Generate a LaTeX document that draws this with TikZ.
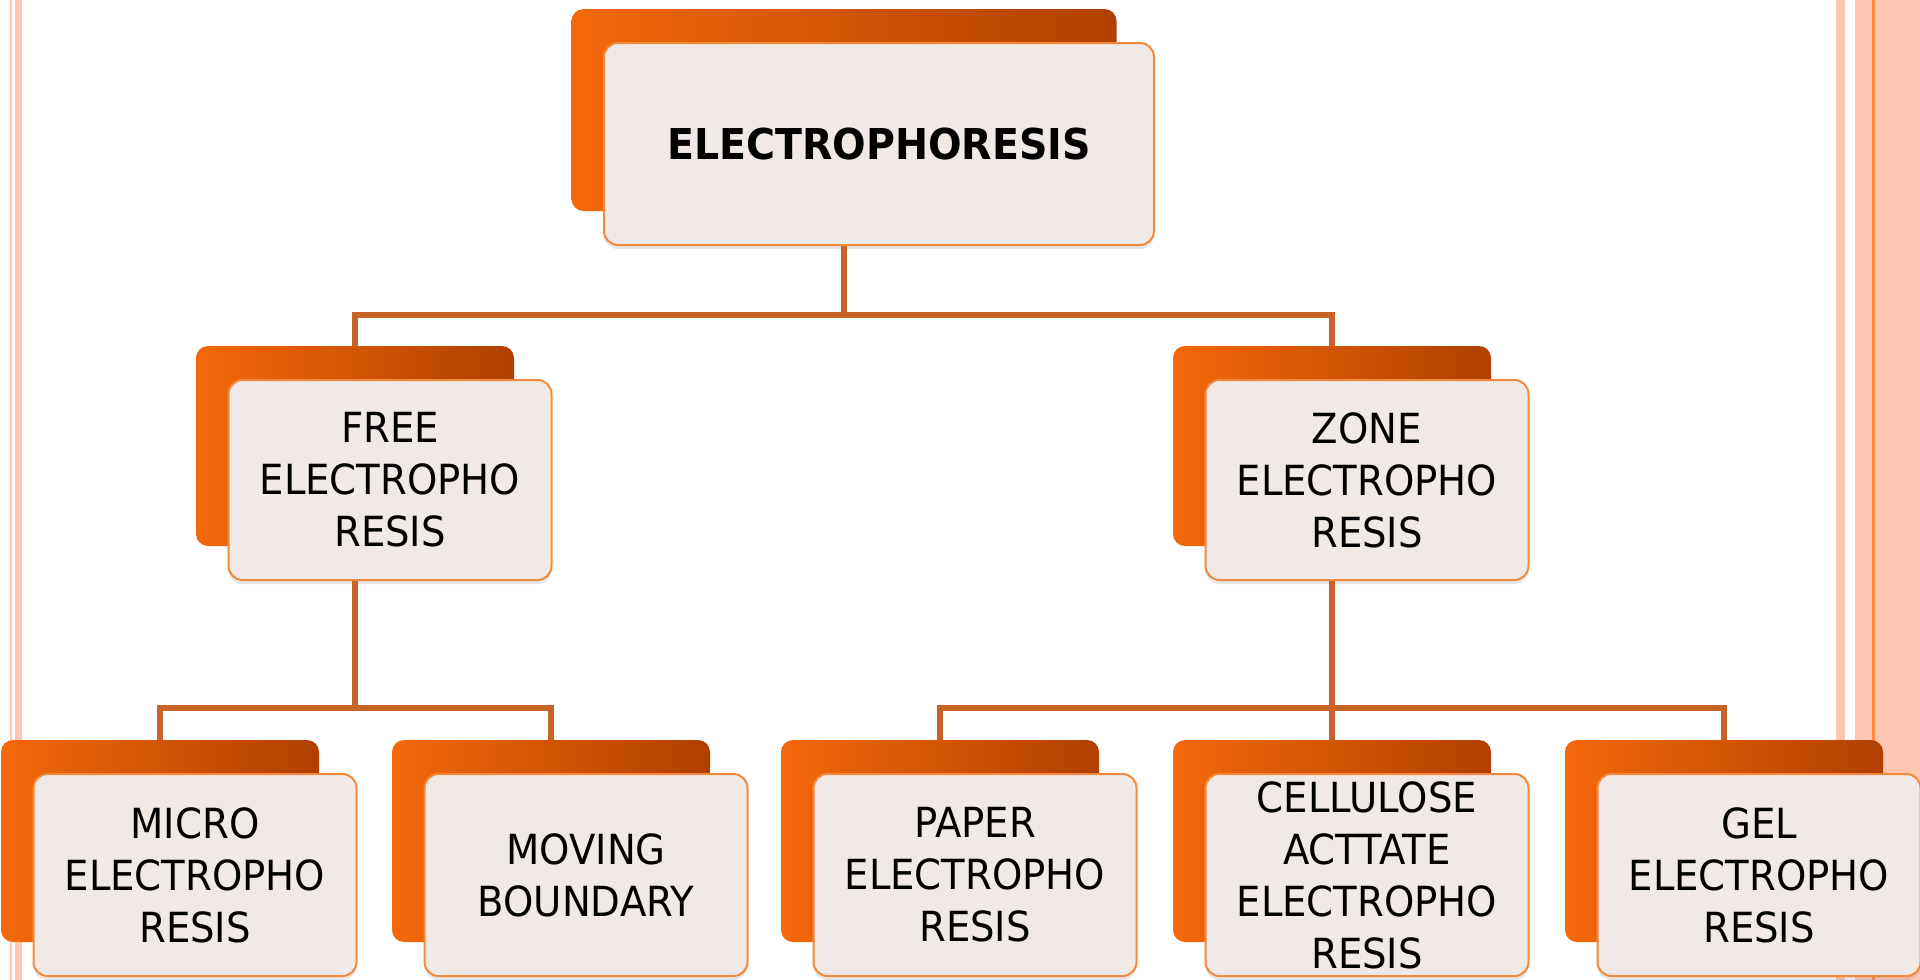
\documentclass[tikz,border=0pt]{standalone}
\usepackage{fontspec}
\setmainfont{DejaVu Sans}[FakeStretch=0.93]
\usetikzlibrary{calc, shadows}
\definecolor{chartedge}{HTML}{F28A3E}
\definecolor{chartfill}{HTML}{F1E9E5}
\definecolor{chartlight}{HTML}{F4680A}
\definecolor{chartmid}{HTML}{DC5405}
\definecolor{chartdark}{HTML}{B04000}
\definecolor{chartlink}{HTML}{C86428}
\definecolor{rimpale}{HTML}{FFC7B2}
\definecolor{rimline}{HTML}{FF8A3D}
\tikzset{
  backbox/.style={rounded corners=12pt, left color=chartlight, middle color=chartmid,
                  right color=chartdark, inner sep=0pt},
  frontbox/.style={draw=chartedge, line width=2pt, rounded corners=14pt, fill=chartfill,
                   align=center, inner sep=0pt,
                   drop shadow={opacity=0.2, shadow xshift=0pt, shadow yshift=-4pt}},
  link/.style={draw=chartlink, line width=5.5pt}
}
\newcommand{\chartbox}[6]{%
  \node[backbox, minimum width=#4pt, minimum height=#5pt] (#1-back) at (#2,#3) {};
  \node[frontbox, minimum width=#4pt+5pt, minimum height=#5pt] (#1)
        at ($(#2,#3)+(35,34)$) {#6};}

\begin{document}
\begin{tikzpicture}[x=1pt, y=-1pt, font=\fontsize{41.5}{52}\selectfont]
  \fill[white] (0,0) rectangle (1920,980);
  \useasboundingbox (0,0) rectangle (1920,980);
  \fill[rimpale] (10,0) rectangle (12,980);
  \fill[rimpale] (15,0) rectangle (22,980);
  \fill[rimpale] (1836,0) rectangle (1845,980);
  \fill[rimpale] (1855,0) rectangle (1920,980);
  \fill[rimline] (1872,0) rectangle (1874.5,980);
  \chartbox{root}{844}{110}{545}{202}{\fontsize{42.5}{50}\selectfont\bfseries ELECTROPHORESIS}
  \chartbox{free}{355}{446}{318}{200}{FREE\\ELECTROPHO\\RESIS}
  \chartbox{zone}{1332}{446}{318}{200}{ZONE\\ELECTROPHO\\RESIS}
  \chartbox{micro}{160}{841}{318}{202}{MICRO\\ELECTROPHO\\RESIS}
  \chartbox{moving}{551}{841}{318}{202}{MOVING\\BOUNDARY}
  \chartbox{paper}{940}{841}{318}{202}{PAPER\\ELECTROPHO\\RESIS}
  \chartbox{cellulose}{1332}{841}{318}{202}{CELLULOSE\\ACTTATE\\ELECTROPHO\\RESIS}
  \chartbox{gel}{1724}{841}{318}{202}{GEL\\ELECTROPHO\\RESIS}
  \draw[link] (root-back.south |- root.south) -- ++(0,71);
  \draw[link] (free-back.north) -- ++(0,-31) -| (zone-back.north);
  \draw[link] (free-back.south |- free.south) -- ++(0,128);
  \draw[link] (micro-back.north) -- ++(0,-32) -| (moving-back.north);
  \draw[link] (zone-back.south |- zone.south) -- (cellulose-back.north);
  \draw[link] (paper-back.north) -- ++(0,-32) -| (gel-back.north);
\end{tikzpicture}
\end{document}
